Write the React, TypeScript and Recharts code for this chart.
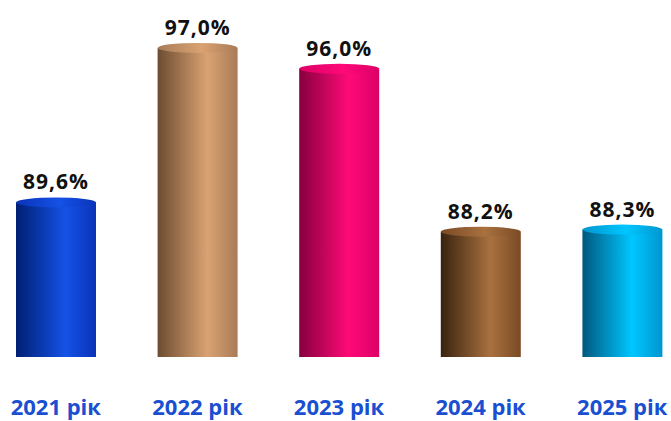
import { BarChart, Bar, XAxis, YAxis, LabelList } from 'recharts';

const categories = ['2021 рік', '2022 рік', '2023 рік', '2024 рік', '2025 рік'];
const values = [89.6, 97.0, 96.0, 88.2, 88.3];
const valueLabels = ['89,6%', '97,0%', '96,0%', '88,2%', '88,3%'];

// gradient stops: dark left edge, bright highlight, right edge
const palette = [
    ['#001f73', '#1552e6', '#0a33b8'],
    ['#6c4c31', '#daa272', '#a87c58'],
    ['#86003e', '#ff0a78', '#dc0066'],
    ['#39230f', '#a9713f', '#7a4a24'],
    ['#00587e', '#00c6ff', '#0096cf'],
];

const chartData = categories.map((name, i) => ({
    name,
    value: values[i],
    label: valueLabels[i],
}));

const RY = 5;

function Cylinder(props: any) {
    const { x, y, width, height, index } = props;
    const cx = x + width / 2;
    const bottom = y + height;
    return (
        <g>
            <path
                d={`M${x},${y} L${x},${bottom} A${width / 2},${RY} 0 0 0 ${x + width},${bottom} L${x + width},${y} Z`}
                fill={`url(#body${index})`}
            />
            <ellipse cx={cx} cy={y} rx={width / 2} ry={RY} fill={`url(#cap${index})`} />
        </g>
    );
}

function ValueLabel(props: any) {
    const { x, y, width, value } = props;
    return (
        <text
            x={x + width / 2}
            y={y - 13}
            textAnchor="middle"
            fill="#111"
            fontFamily="'Open Sans', sans-serif"
            fontWeight="bold"
            fontSize={21}
            letterSpacing={1}
        >
            {value}
        </text>
    );
}

function CategoryTick(props: any) {
    const { x, y, payload } = props;
    return (
        <text
            x={x}
            y={y}
            dy={50}
            textAnchor="middle"
            fill="#1a4fd2"
            fontFamily="'Open Sans', sans-serif"
            fontWeight="bold"
            fontSize={22}
        >
            {payload.value}
        </text>
    );
}

export default function App() {
    return (
        <div style={{ position: 'absolute', left: 0, top: 0, width: 671, height: 421, overflow: 'hidden', background: '#fff' }}>
            <div style={{ position: 'absolute', left: -15, top: 0 }}>
                <BarChart
                    width={708}
                    height={421}
                    data={chartData}
                    margin={{ top: 27, right: 0, left: 0, bottom: 0 }}
                >
                    <defs>
                        {palette.map((c, i) => (
                            <linearGradient key={`b${i}`} id={`body${i}`} x1="0" y1="0" x2="1" y2="0">
                                <stop offset="0%" stopColor={c[0]} />
                                <stop offset="62%" stopColor={c[1]} />
                                <stop offset="100%" stopColor={c[2]} />
                            </linearGradient>
                        ))}
                        {palette.map((c, i) => (
                            <linearGradient key={`c${i}`} id={`cap${i}`} x1="0" y1="0" x2="1" y2="0">
                                <stop offset="0%" stopColor={c[2]} />
                                <stop offset="55%" stopColor={c[1]} />
                                <stop offset="100%" stopColor={c[2]} />
                            </linearGradient>
                        ))}
                    </defs>
                    <XAxis
                        dataKey="name"
                        axisLine={false}
                        tickLine={false}
                        height={64}
                        interval={0}
                        tick={<CategoryTick />}
                    />
                    <YAxis hide domain={[82.2, 98]} allowDataOverflow />
                    <Bar dataKey="value" barSize={80} shape={<Cylinder />} isAnimationActive={false}>
                        <LabelList dataKey="label" content={<ValueLabel />} />
                    </Bar>
                </BarChart>
            </div>
        </div>
    );
}
